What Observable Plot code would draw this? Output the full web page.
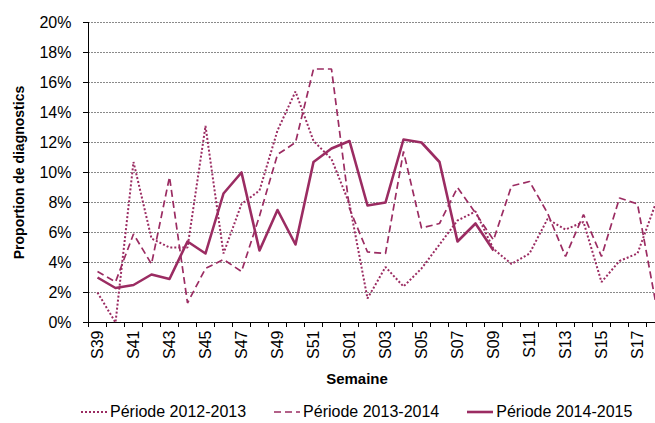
<!DOCTYPE html>
<html><head><meta charset="utf-8">
<script src="https://cdn.jsdelivr.net/npm/d3@7"></script>
<script src="https://cdn.jsdelivr.net/npm/@observablehq/plot@0.6"></script>
<style>
html,body{margin:0;padding:0;background:#fff;overflow:hidden;}
#chart{width:655px;height:423px;position:relative;overflow:hidden;font-family:"Liberation Sans",Arial,sans-serif;}
#chart svg.plot{overflow:hidden;}
.legend{display:flex;align-items:center;height:28px;margin-top:3px;padding-left:81px;font-size:16px;color:#000;white-space:nowrap;}
.legend .item{display:flex;align-items:center;margin-right:28px;}
.legend svg{margin-right:3px;}
</style></head><body><div id="chart"></div>
<script>
const weeks = ["S39","S40","S41","S42","S43","S44","S45","S46","S47","S48","S49","S50","S51","S52",
  "S01","S02","S03","S04","S05","S06","S07","S08","S09","S10","S11","S12","S13","S14","S15","S16","S17","S18"];
const p2012 = [2.0,0.0,10.7,5.6,5.0,5.0,13.1,4.6,7.9,8.8,12.8,15.4,12.1,10.9,7.9,1.6,3.7,2.4,3.6,5.2,6.8,7.4,4.9,3.9,4.6,6.9,6.2,6.7,2.7,4.1,4.6,7.9];
const p2013 = [3.4,2.7,5.9,3.9,9.7,1.3,3.6,4.2,3.4,7.1,11.2,12.0,16.9,16.9,7.6,4.7,4.6,11.4,6.3,6.6,9.0,7.3,5.5,9.1,9.4,7.3,4.4,7.2,4.4,8.3,7.9,1.4];
const p2014 = [3.0,2.3,2.5,3.2,2.9,5.4,4.6,8.6,10.0,4.8,7.5,5.2,10.7,11.6,12.1,7.8,8.0,12.2,12.0,10.7,5.4,6.6,4.8];
const yTicks = [0,2,4,6,8,10,12,14,16,18,20];
const seriesNames = ["Période 2012-2013","Période 2013-2014","Période 2014-2015"];
const yTitle = "Proportion de diagnostics";
const xTitle = "Semaine";

const color = "#9b2c62";
const styles = [
  {strokeWidth: 2, strokeDasharray: "2,2"},
  {strokeWidth: 1.7, strokeDasharray: "7,4"},
  {strokeWidth: 2.6, strokeDasharray: null}
];
const rows = (vals) => vals.map((v, i) => ({i, v}));
const boundaries = weeks.map((_, i) => i - 0.5);
const labelIdx = weeks.map((_, i) => i).filter(i => i % 2 === 0);
const font = '"Liberation Sans", Arial, sans-serif';

const plot = Plot.plot({
  width: 655, height: 395,
  marginTop: 22, marginBottom: 73, marginLeft: 88, marginRight: 0,
  style: {fontFamily: font, fontSize: "16px", color: "#000", background: "#fff"},
  x: {type: "linear", domain: [-0.5, weeks.length - 0.5], range: [88, 88 + 18 * weeks.length], label: null},
  y: {domain: [0, 20], label: null},
  marks: [
    Plot.gridY(yTicks.slice(1), {stroke: "#8a8a8a", strokeOpacity: 1, strokeDasharray: "2,1", strokeWidth: 1}),
    Plot.axisY(yTicks, {tickSize: 5, tickPadding: 12, tickFormat: d => d + "%", fontSize: 16, stroke: "#000", strokeOpacity: 1}),
    Plot.axisX(boundaries, {tickSize: 5, tickFormat: () => "", stroke: "#000", strokeOpacity: 1}),
    Plot.axisX(labelIdx, {tickSize: 0, tickPadding: 8, tickRotate: -90, tickFormat: i => weeks[i], fontSize: 16}),
    Plot.ruleX([-0.5], {stroke: "#000"}),
    Plot.ruleY([0], {stroke: "#000"}),
    Plot.line(rows(p2012), {x: "i", y: "v", stroke: color, strokeLinecap: "butt", strokeLinejoin: "miter", ...styles[0]}),
    Plot.line(rows(p2013), {x: "i", y: "v", stroke: color, strokeLinecap: "butt", strokeLinejoin: "miter", ...styles[1]}),
    Plot.line(rows(p2014), {x: "i", y: "v", stroke: color, strokeLinecap: "butt", strokeLinejoin: "round", ...styles[2]}),
    Plot.text([yTitle], {frameAnchor: "left", textAnchor: "middle", lineAnchor: "middle", rotate: -90, dx: -69, fontWeight: "bold", fontSize: 14}),
    Plot.text([xTitle], {frameAnchor: "bottom", dy: 61, dx: -15, fontWeight: "bold", fontSize: 15})
  ]
});
const chart = document.getElementById("chart");
chart.appendChild(plot);

const legend = document.createElement("div");
legend.className = "legend";
seriesNames.forEach((name, k) => {
  const item = document.createElement("div");
  item.className = "item";
  const s = styles[k];
  item.innerHTML = `<svg width="26" height="10"><line x1="0" x2="26" y1="5" y2="5" stroke="${color}" stroke-width="${s.strokeWidth}" ${s.strokeDasharray ? `stroke-dasharray="${s.strokeDasharray}"` : ""}/></svg><span>${name}</span>`;
  legend.appendChild(item);
});
chart.appendChild(legend);
</script></body></html>
